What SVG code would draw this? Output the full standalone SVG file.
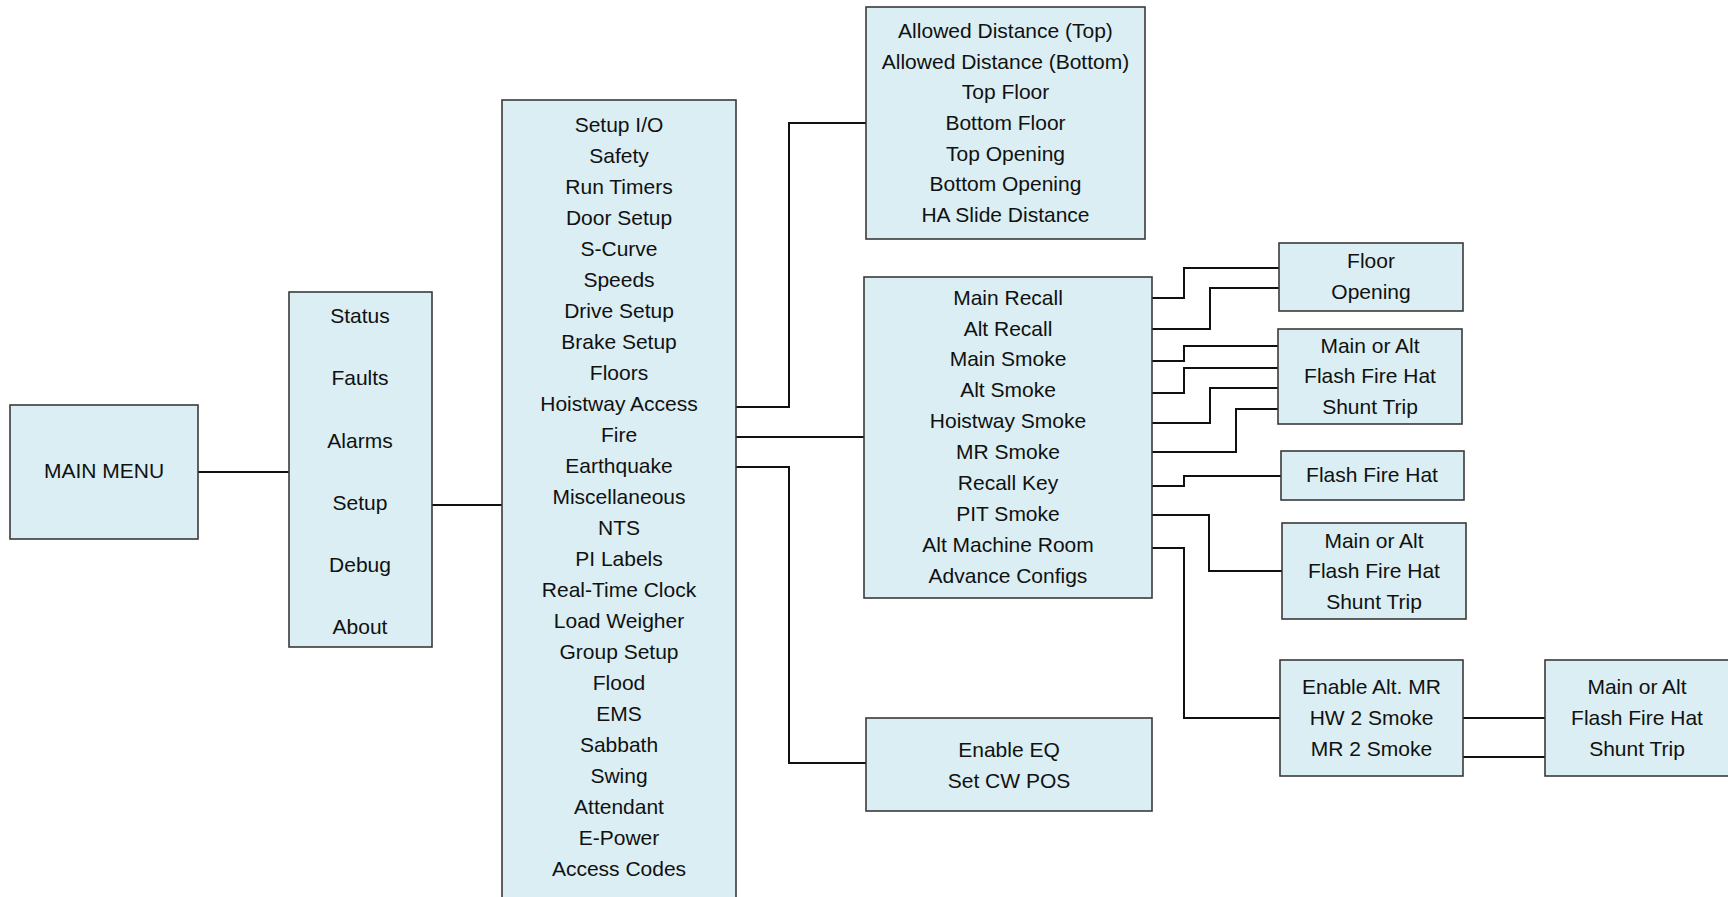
<svg xmlns="http://www.w3.org/2000/svg" width="1728" height="897" viewBox="0 0 1728 897">
<style>
.box{fill:#DAEEF3;stroke:#3a3a3a;stroke-width:1.6}
.t{font-family:"Liberation Sans",Arial,sans-serif;font-size:21px;fill:#111;text-anchor:middle}
.c{fill:none;stroke:#111;stroke-width:2}
</style>
<rect width="1728" height="897" fill="#fff"/>
<g id="connectors">
<path class="c" d="M198,472 H289"/>
<path class="c" d="M432,505 H502"/>
<path class="c" d="M736,407 H789 V123 H866"/>
<path class="c" d="M736,437 H864"/>
<path class="c" d="M736,467 H789 V763 H866"/>
<path class="c" d="M1152,298 H1184 V268 H1279"/>
<path class="c" d="M1152,329 H1210 V288 H1279"/>
<path class="c" d="M1152,361 H1184 V346 H1278"/>
<path class="c" d="M1152,393 H1184 V368 H1278"/>
<path class="c" d="M1152,423 H1210 V388 H1278"/>
<path class="c" d="M1152,452 H1236 V409 H1278"/>
<path class="c" d="M1152,486 H1184 V476 H1281"/>
<path class="c" d="M1152,515 H1209 V571 H1282"/>
<path class="c" d="M1152,548 H1184 V718 H1280"/>
<path class="c" d="M1463,718 H1545"/>
<path class="c" d="M1463,757 H1545"/>
</g>
<g id="main-menu">
<rect class="box" x="10" y="405" width="188" height="134"/>
<text class="t" x="104" y="478">MAIN MENU</text>
</g>
<g id="menu">
<rect class="box" x="289" y="292" width="143" height="355"/>
<text class="t" x="360" y="323">Status</text>
<text class="t" x="360" y="385">Faults</text>
<text class="t" x="360" y="448">Alarms</text>
<text class="t" x="360" y="510">Setup</text>
<text class="t" x="360" y="572">Debug</text>
<text class="t" x="360" y="634">About</text>
</g>
<g id="setup">
<rect class="box" x="502" y="100" width="234" height="810"/>
<text class="t" x="619" y="131.5">Setup I/O</text>
<text class="t" x="619" y="162.5">Safety</text>
<text class="t" x="619" y="193.5">Run Timers</text>
<text class="t" x="619" y="224.5">Door Setup</text>
<text class="t" x="619" y="255.5">S-Curve</text>
<text class="t" x="619" y="286.5">Speeds</text>
<text class="t" x="619" y="317.5">Drive Setup</text>
<text class="t" x="619" y="348.5">Brake Setup</text>
<text class="t" x="619" y="379.5">Floors</text>
<text class="t" x="619" y="410.5">Hoistway Access</text>
<text class="t" x="619" y="441.5">Fire</text>
<text class="t" x="619" y="472.5">Earthquake</text>
<text class="t" x="619" y="503.5">Miscellaneous</text>
<text class="t" x="619" y="534.5">NTS</text>
<text class="t" x="619" y="565.5">PI Labels</text>
<text class="t" x="619" y="596.5">Real-Time Clock</text>
<text class="t" x="619" y="627.5">Load Weigher</text>
<text class="t" x="619" y="658.5">Group Setup</text>
<text class="t" x="619" y="689.5">Flood</text>
<text class="t" x="619" y="720.5">EMS</text>
<text class="t" x="619" y="751.5">Sabbath</text>
<text class="t" x="619" y="782.5">Swing</text>
<text class="t" x="619" y="813.5">Attendant</text>
<text class="t" x="619" y="844.5">E-Power</text>
<text class="t" x="619" y="875.5">Access Codes</text>
</g>
<g id="hoistway-access">
<rect class="box" x="866" y="7" width="279" height="232"/>
<text class="t" x="1005.5" y="37.5">Allowed Distance (Top)</text>
<text class="t" x="1005.5" y="68.5">Allowed Distance (Bottom)</text>
<text class="t" x="1005.5" y="99">Top Floor</text>
<text class="t" x="1005.5" y="130">Bottom Floor</text>
<text class="t" x="1005.5" y="160.5">Top Opening</text>
<text class="t" x="1005.5" y="191">Bottom Opening</text>
<text class="t" x="1005.5" y="221.5">HA Slide Distance</text>
</g>
<g id="fire">
<rect class="box" x="864" y="277" width="288" height="321"/>
<text class="t" x="1008" y="304.5">Main Recall</text>
<text class="t" x="1008" y="335.5">Alt Recall</text>
<text class="t" x="1008" y="366">Main Smoke</text>
<text class="t" x="1008" y="397">Alt Smoke</text>
<text class="t" x="1008" y="428">Hoistway Smoke</text>
<text class="t" x="1008" y="458.5">MR Smoke</text>
<text class="t" x="1008" y="489.5">Recall Key</text>
<text class="t" x="1008" y="520.5">PIT Smoke</text>
<text class="t" x="1008" y="551.5">Alt Machine Room</text>
<text class="t" x="1008" y="582.5">Advance Configs</text>
</g>
<g id="earthquake">
<rect class="box" x="866" y="718" width="286" height="93"/>
<text class="t" x="1009" y="756.5">Enable EQ</text>
<text class="t" x="1009" y="787.5">Set CW POS</text>
</g>
<g id="recall-floor">
<rect class="box" x="1279" y="243" width="184" height="68"/>
<text class="t" x="1371" y="267.5">Floor</text>
<text class="t" x="1371" y="298.5">Opening</text>
</g>
<g id="smoke-options">
<rect class="box" x="1278" y="329" width="184" height="95"/>
<text class="t" x="1370" y="352.5">Main or Alt</text>
<text class="t" x="1370" y="383">Flash Fire Hat</text>
<text class="t" x="1370" y="413.5">Shunt Trip</text>
</g>
<g id="recall-key">
<rect class="box" x="1281" y="451" width="183" height="49"/>
<text class="t" x="1372" y="482">Flash Fire Hat</text>
</g>
<g id="pit-smoke">
<rect class="box" x="1282" y="523" width="184" height="96"/>
<text class="t" x="1374" y="547.5">Main or Alt</text>
<text class="t" x="1374" y="578">Flash Fire Hat</text>
<text class="t" x="1374" y="608.5">Shunt Trip</text>
</g>
<g id="alt-machine-room">
<rect class="box" x="1280" y="660" width="183" height="116"/>
<text class="t" x="1371.5" y="693.5">Enable Alt. MR</text>
<text class="t" x="1371.5" y="724.5">HW 2 Smoke</text>
<text class="t" x="1371.5" y="755.5">MR 2 Smoke</text>
</g>
<g id="alt-mr-smoke">
<rect class="box" x="1545" y="660" width="190" height="116"/>
<text class="t" x="1637" y="693.5">Main or Alt</text>
<text class="t" x="1637" y="724.5">Flash Fire Hat</text>
<text class="t" x="1637" y="755.5">Shunt Trip</text>
</g>
</svg>
